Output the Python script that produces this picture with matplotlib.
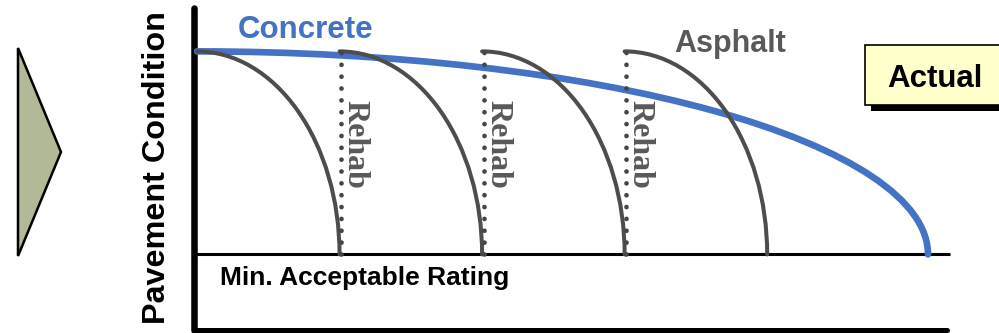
import matplotlib.pyplot as plt
from matplotlib.patches import Polygon, Rectangle, Arc

# condition scale: new pavement = 100, minimum acceptable rating = 27
new_rating = 100
min_rating = 27

# concrete: one long life until it reaches the minimum rating
concrete_life = 100

# asphalt: repeated short cycles, each ending in a rehab
asphalt_life = 19.5
cycle_start = [0, 19.5, 39.0, 58.5]
rehab_t = [19.7, 39.2, 58.7]

W, H = 999, 333
plt.rcParams['font.family'] = ['Liberation Sans', 'DejaVu Sans']

fig = plt.figure(figsize=(W / 100, H / 100), dpi=100)


def fx(px):
    return px / W


def fy(py):
    return 1 - py / H


ax = fig.add_axes([fx(193.5), fy(329.5), 753.5 / W, 321.5 / H])
ax.set_xlim(-0.48, 102.6)
ax.set_ylim(0, 115.6)
ax.set_xticks([])
ax.set_yticks([])
for s in ['top', 'right']:
    ax.spines[s].set_visible(False)
ax.spines['left'].set_linewidth(4.7)
ax.spines['left'].set_capstyle('round')
ax.spines['bottom'].set_linewidth(3.6)
ax.spines['bottom'].set_capstyle('round')

gray = '#4d4d4d'
blue = '#4472c4'
drop = new_rating - min_rating

# minimum acceptable rating
ax.plot([ax.get_xlim()[0], 103.0], [min_rating, min_rating], color='black',
        lw=2.2, solid_capstyle='butt', clip_on=False, zorder=2)

# deterioration curves as quarter ellipses down to the min rating
concrete = Arc((0, min_rating), 2 * concrete_life, 2 * drop, theta1=0,
               theta2=90, color=blue, lw=4.8, capstyle='round', zorder=3)
ax.add_patch(concrete)

for s in cycle_start:
    arc = Arc((s, min_rating), 2 * asphalt_life, 2 * drop, theta1=0,
              theta2=90, color=gray, lw=2.9, capstyle='round', zorder=4)
    ax.add_patch(arc)

for r in rehab_t:
    ax.plot([r, r], [min_rating, new_rating], color='#454545', lw=3.4,
            linestyle=(0, (0.01, 2.5)), dash_capstyle='round', zorder=4)
    ax.text(r + 0.9, 66.7, 'Rehab', rotation=-90, rotation_mode='anchor',
            ha='center', va='baseline', fontsize=23, fontweight='bold',
            family=['Liberation Serif', 'DejaVu Serif'], color='#595959')

ax.text(14.9, 104.9, 'Concrete', ha='center', va='baseline', fontsize=22.5,
        fontweight='bold', color=blue)
ax.text(72.9, 99.8, 'Asphalt', ha='center', va='baseline', fontsize=22,
        fontweight='bold', color='#595959')
ax.text(3.15, 16.0, 'Min. Acceptable Rating', ha='left', va='baseline',
        fontsize=19, fontweight='bold', color='black')
ax.text(-4.38, 58.1, 'Pavement Condition', rotation=90, rotation_mode='anchor',
        ha='center', va='baseline', fontsize=23.3, fontweight='bold',
        color='black', clip_on=False)

# arrow on the left
arrow = Polygon([(fx(18), fy(48)), (fx(61), fy(152)), (fx(18), fy(256))],
                closed=True, facecolor='#b2b996', edgecolor='black', lw=1.8,
                transform=fig.transFigure)
fig.patches.append(arrow)

# "Actual" label box with drop shadow
shadow = Rectangle((fx(871), fy(111)), fx(1010) - fx(871), fy(50) - fy(111),
                   facecolor='black', edgecolor='none',
                   transform=fig.transFigure)
box = Rectangle((fx(865), fy(105)), fx(1010) - fx(865), fy(45) - fy(105),
                facecolor='#ffffcc', edgecolor='black', lw=1.2,
                transform=fig.transFigure)
fig.patches.extend([shadow, box])
fig.text(fx(935), fy(87), 'Actual', ha='center', va='baseline', fontsize=22.5,
         fontweight='bold', color='black')

fig.savefig('out.png', dpi=100)
